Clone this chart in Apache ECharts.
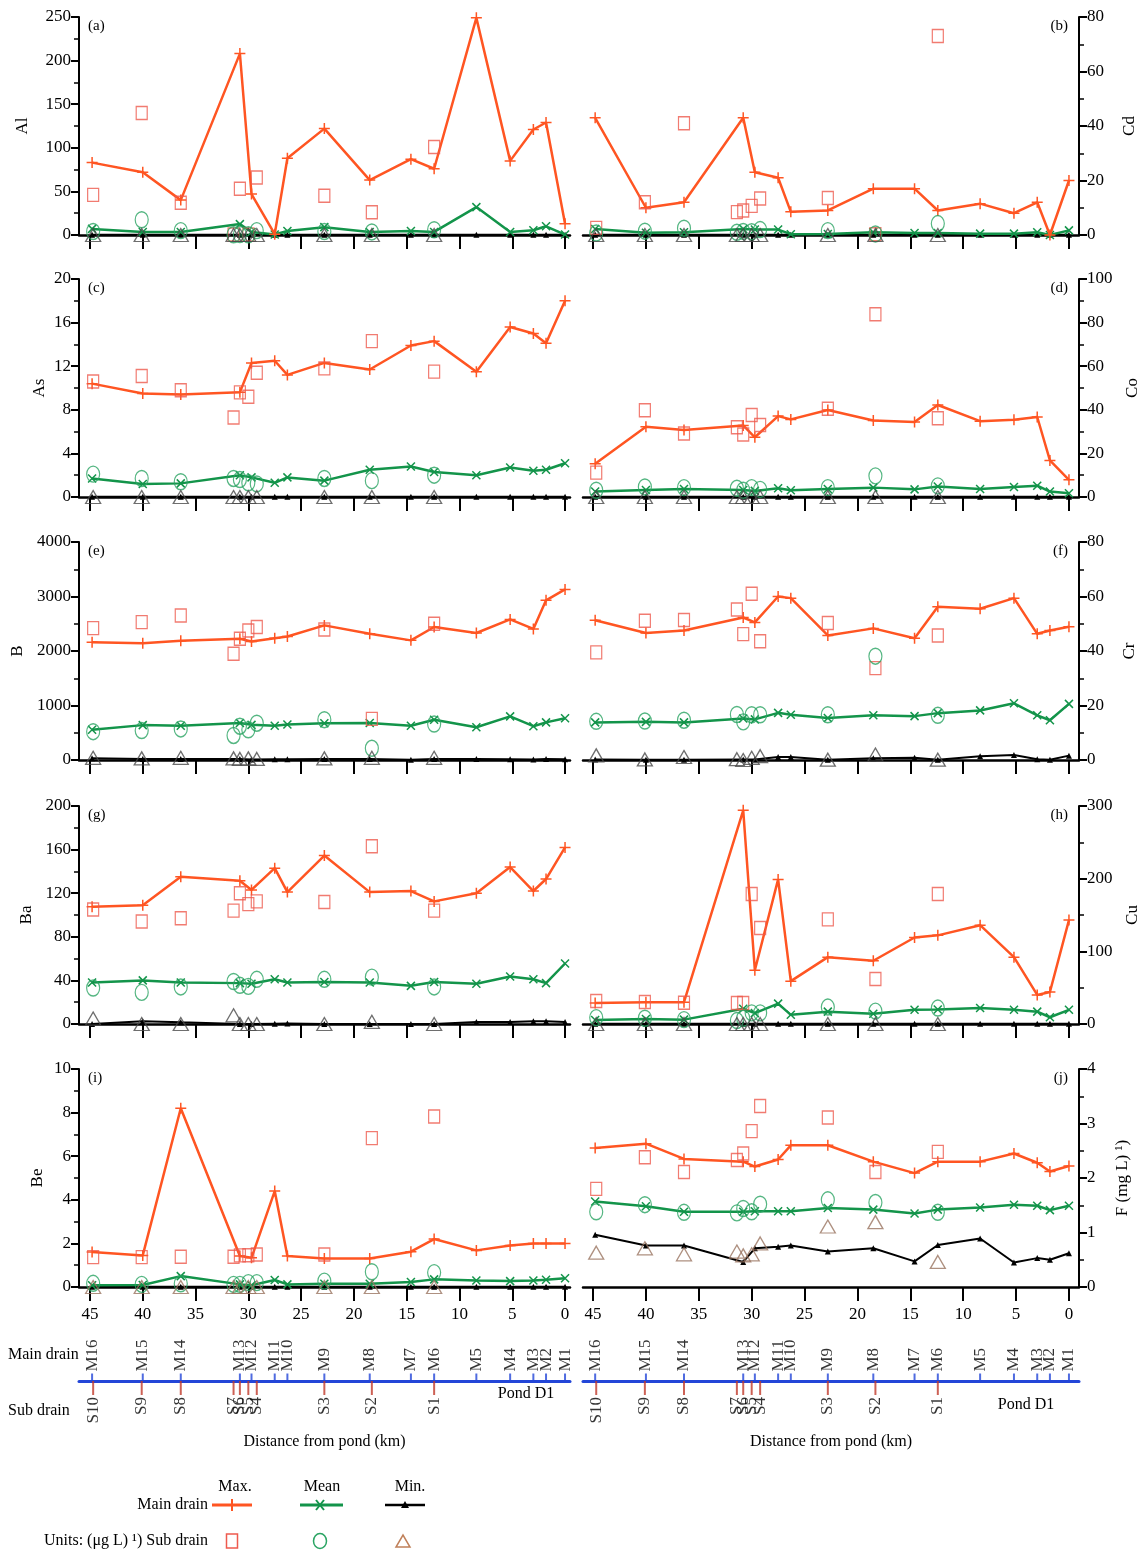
<!DOCTYPE html>
<html><head><meta charset="utf-8">
<script src="https://cdn.jsdelivr.net/npm/echarts@6/dist/echarts.min.js"></script>
<style>html,body{margin:0;padding:0;background:#fff}#c{width:1146px;height:1553px}</style>
</head><body><div id="c"></div>
<script>
// ---------- stations ----------
const mainNames = ['M16','M15','M14','M13','M12','M11','M10','M9','M8','M7','M6','M5','M4','M3','M2','M1'];
const mainKm = [44.8, 40.0, 36.4, 30.8, 29.7, 27.5, 26.3, 22.8, 18.5, 14.6, 12.4, 8.4, 5.2, 3.0, 1.8, 0];
const subNames = ['S10','S9','S8','S7','S6','S5','S4','S3','S2','S1'];
const subKm = [44.7, 40.1, 36.4, 31.4, 30.8, 30.0, 29.2, 22.8, 18.3, 12.4];
const xTicks = [0, 5, 10, 15, 20, 25, 30, 35, 40, 45];

// ---------- Al ----------
const alMax = [83, 72, 40, 208, 47, 1, 88, 122, 63, 87, 76, 249, 85, 121, 129, 13];
const alMean = [7, 3.5, 3.5, 12.5, 3.5, 0.5, 4.5, 9, 3.5, 4.5, 3.5, 32, 3.5, 5.5, 10, 0.5];
const alMin = [0.2, 0.2, 0.2, 0.2, 0.2, 0.2, 0.2, 0.2, 0.2, 0.2, 0.2, 0.2, 0.2, 0.2, 0.2, 0.2];
const alSubMax = [46, 140, 37, 0.5, 53, 0.5, 66, 45, 26, 101];
const alSubMean = [4, 17.5, 5, 0.3, 0.5, 0.3, 5, 4, 3.5, 6];
const alSubMin = [0, 0, 0, 0, 0, 0, 0, 0, 0, 0];
// ---------- Cd ----------
const cdMax = [43, 10, 12, 43, 23, 21, 8.5, 9, 17, 17, 9, 11.5, 8, 12, 0, 20];
const cdMean = [2.2, 0.8, 1.0, 2.2, 2.0, 2.0, 0.3, 0.4, 1.0, 0.7, 0.7, 0.5, 0.5, 1.0, 0, 1.7];
const cdMin = [0.1, 0.1, 0.1, 0.1, 0.1, 0.1, 0.1, 0.1, 0.1, 0.1, 0.1, 0.1, 0.1, 0.1, 0.1, 0.1];
const cdSubMax = [2.6, 12, 41, 8.4, 9, 10.7, 13.4, 13.6, 0.3, 73];
const cdSubMean = [0.7, 1.4, 2.5, 1.0, 1.3, 1.2, 2.0, 1.6, 0.4, 4.2];
const cdSubMin = [0, 0, 0, 0, 0, 0, 0, 0, 0, 0];
// ---------- As ----------
const asMax = [10.4, 9.5, 9.4, 9.6, 12.3, 12.5, 11.2, 12.3, 11.7, 13.9, 14.3, 11.5, 15.6, 15.0, 14.1, 18.0];
const asMean = [1.7, 1.2, 1.25, 2.0, 1.8, 1.3, 1.8, 1.5, 2.5, 2.8, 2.3, 2.0, 2.7, 2.4, 2.5, 3.1];
const asMin = [0.02, 0.02, 0.02, 0.02, 0.02, 0.02, 0.02, 0.02, 0.02, 0.02, 0.02, 0.02, 0.02, 0.02, 0.02, 0.02];
const asSubMax = [10.6, 11.1, 9.8, 7.3, 9.6, 9.2, 11.4, 11.8, 14.3, 11.5];
const asSubMean = [2.1, 1.7, 1.4, 1.7, 1.6, 1.3, 1.2, 1.7, 1.5, 2.0];
const asSubMin = [0, 0, 0, 0, 0, 0, 0, 0, 0, 0];
// ---------- Co ----------
const coMax = [15.3, 32.2, 30.7, 32.8, 27.4, 37.1, 35.6, 39.9, 35.1, 34.4, 42.2, 34.8, 35.4, 36.7, 16.8, 7.9];
const coMean = [2.5, 3.2, 3.7, 3.2, 2.8, 4.0, 3.1, 3.7, 4.3, 3.5, 4.8, 3.7, 4.6, 5.2, 2.5, 1.7];
const coMin = [0.1, 0.1, 0.1, 0.1, 0.1, 0.1, 0.1, 0.1, 0.1, 0.1, 0.1, 0.1, 0.1, 0.1, 0.1, 0.1];
const coSubMax = [11.2, 39.8, 29.1, 32, 28.7, 37.6, 33, 40.5, 83.8, 36.1];
const coSubMean = [3.1, 4.6, 4.3, 4.0, 3.1, 4.3, 3.5, 4.3, 9.7, 5.1];
const coSubMin = [0, 0, 0, 0, 0, 0, 0, 0, 0, 0];
// ---------- B ----------
const bMax = [2160, 2140, 2190, 2225, 2175, 2235, 2265, 2470, 2315, 2195, 2440, 2330, 2580, 2405, 2930, 3130];
const bMean = [555, 640, 630, 680, 645, 630, 650, 675, 680, 630, 740, 600, 800, 620, 690, 765];
const bMin = [30, 20, 20, 20, 10, 15, 15, 20, 20, 5, 20, 20, 15, 10, 20, 15];
const bSubMax = [2420, 2530, 2650, 1950, 2225, 2375, 2440, 2395, 755, 2500];
const bSubMean = [520, 540, 570, 450, 620, 555, 675, 740, 215, 660];
const bSubMin = [40, 30, 40, 30, 20, 30, 20, 30, 40, 40];
// ---------- Cr ----------
const crMax = [51.3, 46.6, 47.5, 52.3, 50.5, 60.0, 59.4, 45.7, 48.3, 44.7, 56.2, 55.5, 59.4, 46.3, 47.5, 48.9];
const crMean = [13.8, 14.0, 13.8, 15.2, 14.9, 17.3, 16.6, 15.4, 16.4, 16.1, 17.2, 18.2, 20.8, 16.4, 14.6, 20.6];
const crMin = [0.2, 0.1, 0.1, 0.2, 0.2, 1.1, 1.1, 0.1, 0.6, 0.8, 0.1, 1.4, 1.8, 0.3, 0.1, 1.6];
const crSubMax = [39.5, 51.1, 51.4, 55.2, 46.2, 61.0, 43.6, 50.3, 33.7, 45.7];
const crSubMean = [14.2, 14.3, 14.6, 16.7, 14.0, 16.6, 16.6, 16.6, 38.1, 16.4];
const crSubMin = [1.7, 0.2, 1.1, 0.3, 0, 0.8, 1.4, 0.1, 2.0, 0.1];
// ---------- Ba ----------
const baMax = [107.5, 109, 135, 131.5, 123, 143, 121, 154.5, 121, 122, 112.5, 120, 144, 122, 133, 162];
const baMean = [38, 40, 38, 37.5, 37, 41, 38, 38.5, 38, 35, 38.5, 37, 43.5, 41, 37.5, 55.5];
const baMin = [0, 2.5, 1.5, 0, 0, 0.3, 0.5, 0, 0, 0, 0, 1.8, 1.8, 2.5, 2.5, 1.8];
const baSubMax = [105, 94, 97, 104, 120, 110, 112.5, 112, 163, 104];
const baSubMean = [33, 29, 34, 39, 35.5, 34.5, 41, 41, 43, 34];
const baSubMin = [5, 0, 0, 8, 0, 0, 0, 0, 2, 0];
// ---------- Cu ----------
const cuMax = [29, 30, 30, 294, 74, 199, 59, 92, 87, 119, 122, 136, 92, 40, 44, 143];
const cuMean = [5.6, 7, 6, 21, 15, 28, 12.6, 17, 14, 19.5, 20, 22, 19.5, 17, 9.3, 19.5];
const cuMin = [0.5, 0.5, 0.5, 0.5, 0.5, 0.5, 0.5, 0.5, 0.5, 0.5, 0.5, 0.5, 0.5, 0.5, 0.5, 0.5];
const cuSubMax = [31.6, 30.2, 29.3, 29, 28.8, 179, 132, 144, 62, 179];
const cuSubMean = [8.8, 7.9, 6, 4.7, 7.9, 15.3, 15.3, 23.3, 17.7, 21.9];
const cuSubMin = [0, 0, 0, 0, 0, 0, 0, 0, 0, 0];
// ---------- Be ----------
const beMax = [1.6, 1.45, 8.2, 1.42, 1.34, 4.4, 1.42, 1.31, 1.31, 1.62, 2.2, 1.68, 1.9, 2.0, 2.0, 2.0];
const beMean = [0.08, 0.09, 0.5, 0.12, 0.08, 0.32, 0.12, 0.15, 0.15, 0.23, 0.35, 0.3, 0.27, 0.3, 0.33, 0.4];
const beMin = [0.01, 0.01, 0.01, 0.01, 0.01, 0.01, 0.01, 0.01, 0.01, 0.01, 0.01, 0.01, 0.01, 0.01, 0.01, 0.01];
const beSubMax = [1.37, 1.37, 1.39, 1.39, 1.45, 1.46, 1.49, 1.49, 6.83, 7.82];
const beSubMean = [0.17, 0.12, 0.15, 0.12, 0.12, 0.2, 0.2, 0.27, 0.7, 0.66];
const beSubMin = [0, 0, 0, 0, 0, 0, 0, 0, 0, 0];
// ---------- F (mg/L) ----------
const fMax = [2.55, 2.63, 2.35, 2.30, 2.21, 2.34, 2.60, 2.60, 2.30, 2.09, 2.30, 2.30, 2.45, 2.28, 2.12, 2.22];
const fMean = [1.57, 1.48, 1.38, 1.38, 1.39, 1.39, 1.39, 1.45, 1.42, 1.35, 1.42, 1.46, 1.51, 1.49, 1.41, 1.49];
const fMin = [0.96, 0.76, 0.76, 0.46, 0.71, 0.74, 0.76, 0.65, 0.71, 0.47, 0.77, 0.89, 0.45, 0.53, 0.50, 0.62];
const fSubMax = [1.80, 2.38, 2.11, 2.33, 2.45, 2.86, 3.32, 3.11, 2.11, 2.48];
const fSubMean = [1.38, 1.51, 1.37, 1.36, 1.44, 1.38, 1.52, 1.6, 1.55, 1.37];
const fSubMin = [0.63, 0.71, 0.60, 0.65, 0.58, 0.60, 0.80, 1.11, 1.19, 0.46];

// ---------- styling ----------
const SERIF = '"Liberation Serif","DejaVu Serif",serif';
const C_MAX = '#ff5522', C_SQ = '#ee5a4e', C_MEAN = '#13944a', C_CIR = '#2aa463';
const TRI_DARK = '#4a4a4a', TRI_BROWN = '#9a7460';
const PLUS = 'path://M5,0L5,10M0,5L10,5';
const CROSS = 'path://M0,0L10,10M0,10L10,0';

const panels = [
  {tag:'(a)', el:'Al', col:0, row:0, ymax:250, step:50, gap:48, tri:TRI_DARK, d:[alMax,alMean,alMin,alSubMax,alSubMean,alSubMin]},
  {tag:'(b)', el:'Cd', col:1, row:0, ymax:80, step:20, gap:42, tri:TRI_DARK, d:[cdMax,cdMean,cdMin,cdSubMax,cdSubMean,cdSubMin]},
  {tag:'(c)', el:'As', col:0, row:1, ymax:20, step:4, gap:31, tri:TRI_DARK, d:[asMax,asMean,asMin,asSubMax,asSubMean,asSubMin]},
  {tag:'(d)', el:'Co', col:1, row:1, ymax:100, step:20, gap:45, tri:TRI_DARK, d:[coMax,coMean,coMin,coSubMax,coSubMean,coSubMin]},
  {tag:'(e)', el:'B',  col:0, row:2, ymax:4000, step:1000, gap:53, tri:TRI_DARK, d:[bMax,bMean,bMin,bSubMax,bSubMean,bSubMin]},
  {tag:'(f)', el:'Cr', col:1, row:2, ymax:80, step:20, gap:42, tri:TRI_DARK, d:[crMax,crMean,crMin,crSubMax,crSubMean,crSubMin]},
  {tag:'(g)', el:'Ba', col:0, row:3, ymax:200, step:40, gap:44, tri:TRI_DARK, d:[baMax,baMean,baMin,baSubMax,baSubMean,baSubMin]},
  {tag:'(h)', el:'Cu', col:1, row:3, ymax:300, step:100, gap:45, tri:TRI_DARK, d:[cuMax,cuMean,cuMin,cuSubMax,cuSubMean,cuSubMin]},
  {tag:'(i)', el:'Be', col:0, row:4, ymax:10, step:2, gap:33, tri:TRI_BROWN, d:[beMax,beMean,beMin,beSubMax,beSubMean,beSubMin]},
  {tag:'(j)', el:'F (mg L) \u00b9)', col:1, row:4, ymax:4, step:1, gap:35, tri:TRI_BROWN, d:[fMax,fMean,fMin,fSubMax,fSubMean,fSubMin]}
];
const rowTop = [17, 279, 542, 806, 1069];
const PH = 218;
const cols = [
  {left:79, width:491, min:-0.47, max:46.04},
  {left:583, width:496, min:-0.95, max:45.95}
];

const option = {animation:false, backgroundColor:'#fff', grid:[], xAxis:[], yAxis:[], series:[], graphic:[]};
const pts = (xs, ys) => xs.map((x, j) => [x, ys[j]]);

panels.forEach((p, i) => {
  const c = cols[p.col];
  const last = p.row === 4;
  option.grid.push({left:c.left, top:rowTop[p.row], width:c.width, height:PH});
  option.xAxis.push({
    gridIndex:i, type:'value', inverse:true, min:c.min, max:c.max, position:'bottom',
    axisLine:{onZero:false, lineStyle:{color:'#000', width:2.5}},
    axisTick:{show:true, inside:false, length:14, customValues:xTicks, lineStyle:{color:'#000', width:2}},
    axisLabel:{show:last, customValues:xTicks, margin:19, fontFamily:SERIF, fontSize:17, color:'#000'},
    splitLine:{show:false}
  });
  option.yAxis.push({
    gridIndex:i, type:'value', position:p.col ? 'right' : 'left', min:0, max:p.ymax, interval:p.step,
    name:p.el, nameLocation:'middle', nameGap:p.gap,
    nameTextStyle:{fontFamily:SERIF, fontSize:17, color:'#000'},
    axisLine:{show:true, onZero:false, lineStyle:{color:'#000', width:2}},
    axisTick:{show:true, length:8, lineStyle:{color:'#000', width:2}},
    minorTick:{show:true, splitNumber:2, length:5, lineStyle:{color:'#000', width:1.5}},
    axisLabel:{fontFamily:SERIF, fontSize:17, color:'#000', formatter:v => String(v)},
    splitLine:{show:false}, minorSplitLine:{show:false}
  });
  const base = {xAxisIndex:i, yAxisIndex:i, silent:true};
  option.series.push(Object.assign({type:'line', name:'Main min', data:pts(mainKm, p.d[2]),
    symbol:'triangle', symbolSize:6, lineStyle:{color:'#000', width:2},
    itemStyle:{color:'#000'}, z:3}, base));
  option.series.push(Object.assign({type:'line', name:'Main mean', data:pts(mainKm, p.d[1]),
    symbol:CROSS, symbolSize:8, lineStyle:{color:C_MEAN, width:2.5},
    itemStyle:{color:C_MEAN, borderColor:C_MEAN, borderWidth:1.5}, z:4}, base));
  option.series.push(Object.assign({type:'line', name:'Main max', data:pts(mainKm, p.d[0]),
    symbol:PLUS, symbolSize:11, lineStyle:{color:C_MAX, width:2.5},
    itemStyle:{color:C_MAX, borderColor:C_MAX, borderWidth:1.5}, z:5}, base));
  option.series.push(Object.assign({type:'scatter', name:'Sub max', data:pts(subKm, p.d[3]),
    symbol:'rect', symbolSize:[11,13],
    itemStyle:{color:'rgba(0,0,0,0)', borderColor:C_SQ, borderWidth:1.3}, z:6}, base));
  option.series.push(Object.assign({type:'scatter', name:'Sub mean', data:pts(subKm, p.d[4]),
    symbol:'circle', symbolSize:[13,16],
    itemStyle:{color:'rgba(0,0,0,0)', borderColor:C_CIR, borderWidth:1.3}, z:6}, base));
  option.series.push(Object.assign({type:'scatter', name:'Sub min', data:pts(subKm, p.d[5]),
    symbol:'triangle', symbolSize:[15,13],
    itemStyle:{color:'rgba(0,0,0,0)', borderColor:p.tri, borderWidth:1.3}, z:6}, base));
  option.graphic.push({type:'text', x: p.col ? 1068 : 88, y: rowTop[p.row] + 9,
    style:{text:p.tag, font:'15px ' + SERIF, fill:'#000', align: p.col ? 'right' : 'left', verticalAlign:'middle'}});
});

// ---------- drain schematic (uses same distance scale) ----------
[0, 1].forEach(ci => {
  const c = cols[ci];
  const gi = option.grid.length;
  option.grid.push({left:c.left, top:1371, width:c.width, height:20});
  option.xAxis.push({
    gridIndex:gi, type:'value', inverse:true, min:c.min, max:c.max, position:'bottom',
    axisLine:{onZero:true, lineStyle:{color:'#2346d8', width:3}},
    axisTick:{show:false}, axisLabel:{show:false}, splitLine:{show:false},
    name:'Distance from pond (km)', nameLocation:'middle', nameGap:43,
    nameTextStyle:{fontFamily:SERIF, fontSize:16, color:'#000'}
  });
  option.yAxis.push({gridIndex:gi, type:'value', min:-1, max:1, show:false});
  option.series.push({type:'scatter', xAxisIndex:gi, yAxisIndex:gi, silent:true,
    data: mainKm.map((k, j) => ({value:[k, 0], name:mainNames[j]})),
    symbol:'rect', symbolSize:[2,7], symbolOffset:[0,-4], itemStyle:{color:'#2346d8'}, z:5,
    label:{show:true, formatter:'{b}', position:'top', distance:2, rotate:90, align:'left', verticalAlign:'middle',
      fontFamily:SERIF, fontSize:17, color:'#000'}});
  option.series.push({type:'scatter', xAxisIndex:gi, yAxisIndex:gi, silent:true,
    data: subKm.map((k, j) => ({value:[k, 0], name:subNames[j]})),
    symbol:'rect', symbolSize:[2,14], symbolOffset:[0,7], itemStyle:{color:'#c0392b'}, z:4,
    label:{show:true, formatter:'{b}', position:'bottom', distance:2, rotate:90, align:'right', verticalAlign:'middle',
      fontFamily:SERIF, fontSize:17, color:'#000'}});
});

const T = (x, y, text, align, size) => ({type:'text', x:x, y:y,
  style:{text:text, font:(size || 15) + 'px ' + SERIF, fill:'#000', align:align || 'left', verticalAlign:'middle'}});
option.graphic.push(T(8, 1355, 'Main drain', 'left', 16));
option.graphic.push(T(8, 1411, 'Sub drain', 'left', 16));
option.graphic.push(T(526, 1394, 'Pond D1', 'center', 16));
option.graphic.push(T(1026, 1405, 'Pond D1', 'center', 16));

// ---------- legend ----------
option.graphic.push(T(235, 1487, 'Max.', 'center', 16));
option.graphic.push(T(322, 1487, 'Mean', 'center', 16));
option.graphic.push(T(410, 1487, 'Min.', 'center', 16));
option.graphic.push(T(208, 1505, 'Main drain', 'right', 16));
option.graphic.push(T(208, 1541, 'Units: (\u03bcg L) \u00b9) Sub drain', 'right', 16));
const L = (x1, y1, x2, y2, color, w) => ({type:'line', shape:{x1:x1, y1:y1, x2:x2, y2:y2}, style:{stroke:color, lineWidth:w}});
option.graphic.push(L(212, 1505, 252, 1505, C_MAX, 3));
option.graphic.push(L(232, 1499, 232, 1511, C_MAX, 2));
option.graphic.push(L(300, 1505, 343, 1505, C_MEAN, 3));
option.graphic.push(L(316, 1500, 324, 1510, C_MEAN, 2));
option.graphic.push(L(316, 1510, 324, 1500, C_MEAN, 2));
option.graphic.push(L(385, 1505, 425, 1505, '#000', 2.5));
option.graphic.push({type:'polygon', shape:{points:[[401,1508],[409,1508],[405,1501]]}, style:{fill:'#000'}});
option.graphic.push({type:'rect', shape:{x:226.5, y:1534, width:11, height:14}, style:{fill:'none', stroke:C_SQ, lineWidth:1.5}});
option.graphic.push({type:'ellipse', shape:{cx:320, cy:1541, rx:6.5, ry:7.5}, style:{fill:'none', stroke:C_CIR, lineWidth:1.5}});
option.graphic.push({type:'polygon', shape:{points:[[396,1547],[410,1547],[403,1535]]}, style:{fill:'none', stroke:'#c0805a', lineWidth:1.5}});

const chart = echarts.init(document.getElementById('c'), null, {renderer:'canvas', width:1146, height:1553});
chart.setOption(option);
</script>
</body></html>
